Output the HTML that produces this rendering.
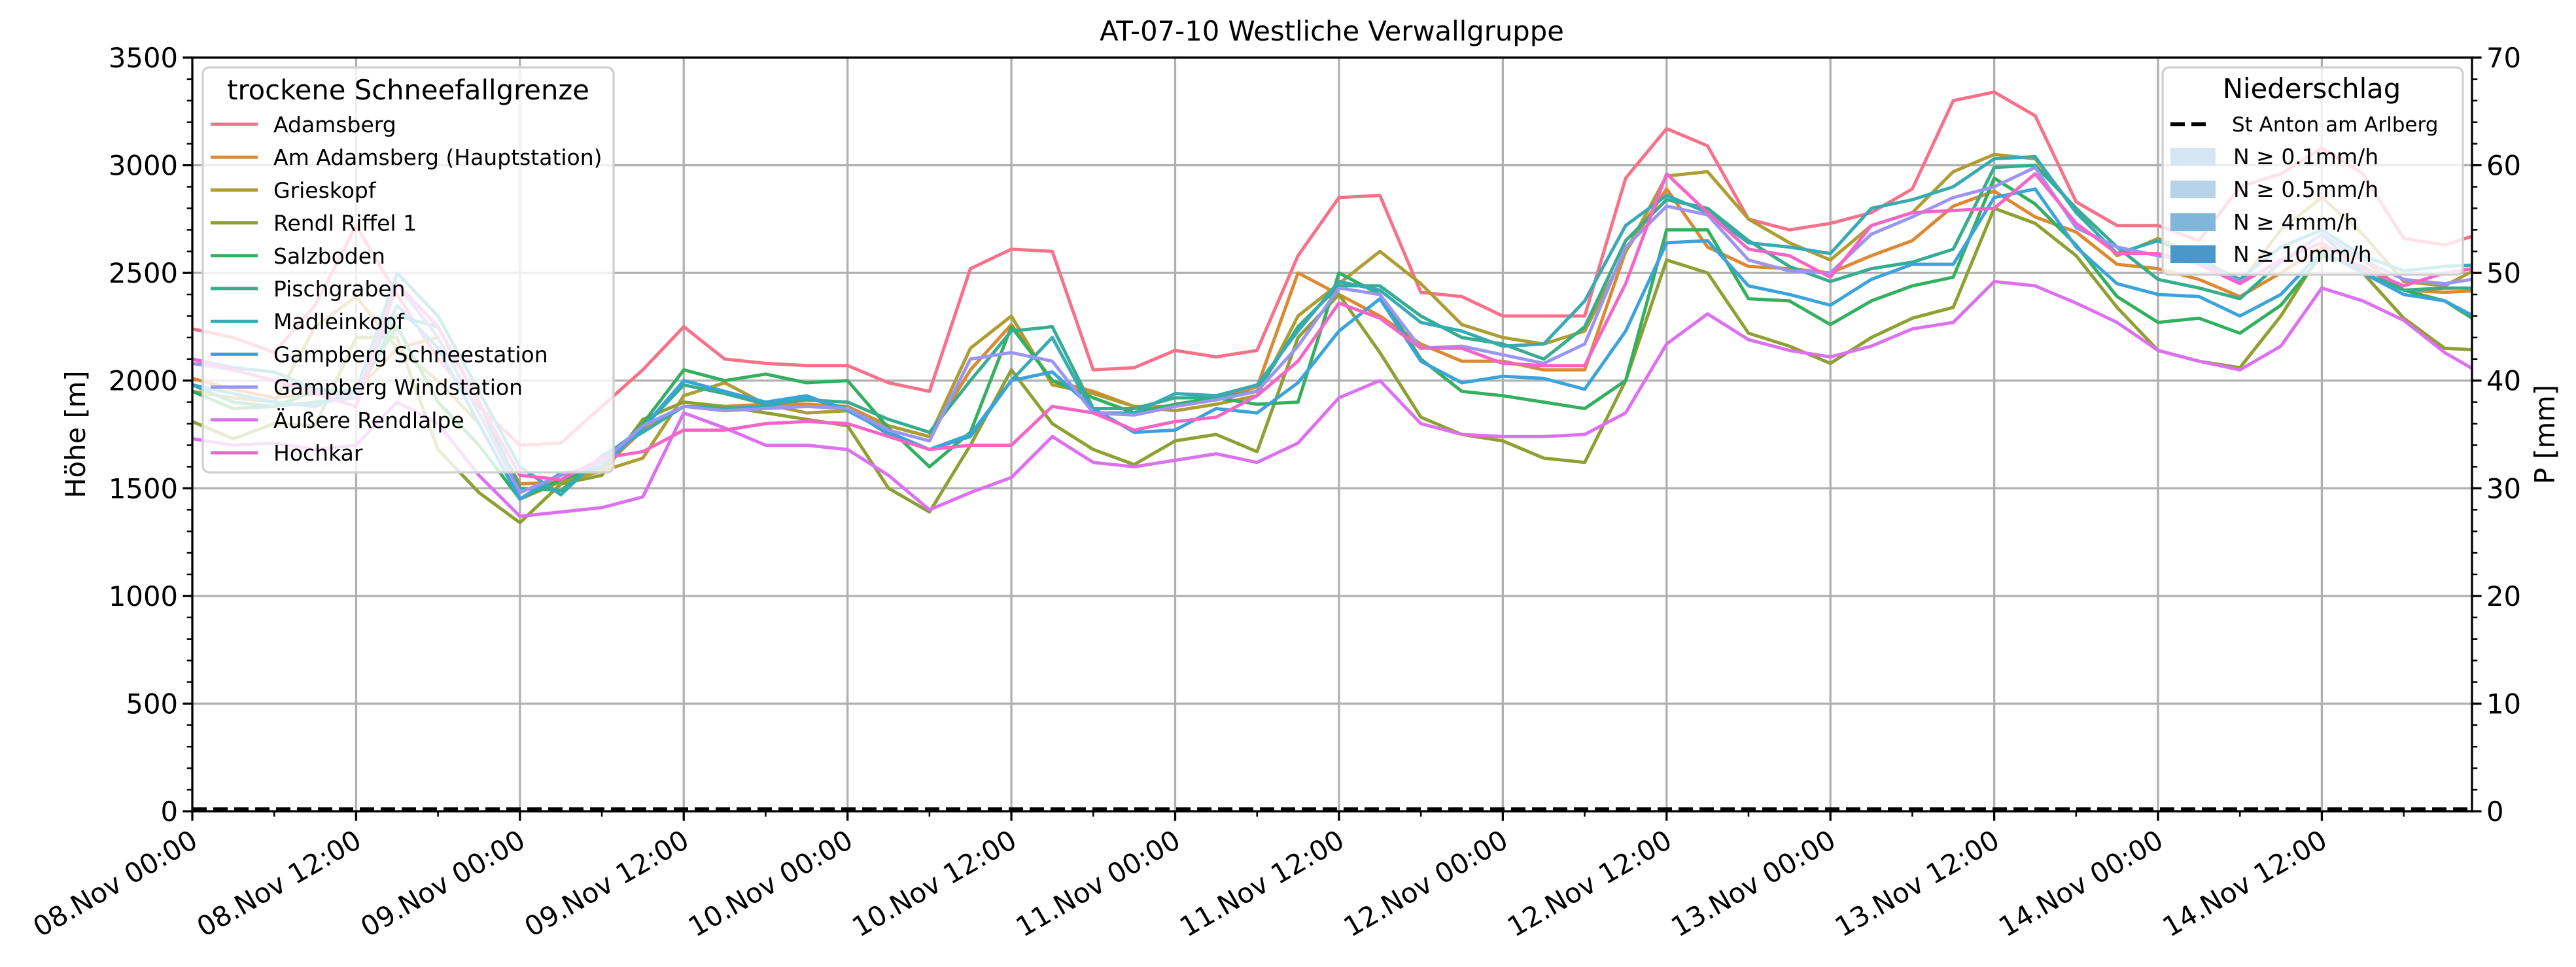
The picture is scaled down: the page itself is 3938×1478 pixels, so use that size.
<!DOCTYPE html>
<html><head><meta charset="utf-8"><style>
html,body{margin:0;padding:0;background:#fff;}
svg{display:block;font-family:"DejaVu Sans","Liberation Sans",sans-serif;}
</style></head><body>
<svg id="chart" width="3938" height="1478" viewBox="0 0 3938 1478" xmlns="http://www.w3.org/2000/svg">
<defs><clipPath id="plotclip"><rect x="294" y="88" width="3485" height="1152"/></clipPath></defs>
<rect width="3938" height="1478" fill="#fff"/>
<g id="grid"></g>
<g id="series" clip-path="url(#plotclip)"></g>
<line x1="294" y1="1237" x2="3779" y2="1237" stroke="#000" stroke-width="6" stroke-dasharray="22,10"/>
<rect x="294" y="88" width="3485" height="1152" fill="none" stroke="#000" stroke-width="3.3"/>
<g id="axes"></g>
<text x="2036" y="62" font-size="41.7" text-anchor="middle">AT-07-10 Westliche Verwallgruppe</text>
<text x="130" y="664" font-size="41.7" text-anchor="middle" transform="rotate(-90 130 664)">Höhe [m]</text>
<text x="3905" y="664" font-size="41.7" text-anchor="middle" transform="rotate(-90 3905 664)">P [mm]</text>
<g id="legend1">
<rect x="310" y="103" width="628" height="619" rx="10" fill="rgba(255,255,255,0.8)" stroke="#d0d0d0" stroke-width="3.3"/>
<text x="624" y="152" font-size="41.7" text-anchor="middle">trockene Schneefallgrenze</text>
</g>
<g id="legend2">
<rect x="3306" y="103" width="459" height="317" rx="10" fill="rgba(255,255,255,0.8)" stroke="#d0d0d0" stroke-width="3.3"/>
<text x="3534" y="150" font-size="41.7" text-anchor="middle">Niederschlag</text>
<line x1="3318" y1="190" x2="3376" y2="190" stroke="#000" stroke-width="6" stroke-dasharray="22,10"/>
<text x="3412" y="201" font-size="31">St Anton am Arlberg</text>
<rect x="3318" y="226" width="69" height="27" fill="#d6e6f4"/>
<text x="3414" y="251" font-size="33">N ≥ 0.1mm/h</text>
<rect x="3318" y="276" width="69" height="27" fill="#b7d3ea"/>
<text x="3414" y="301" font-size="33">N ≥ 0.5mm/h</text>
<rect x="3318" y="326" width="69" height="27" fill="#7fb6d9"/>
<text x="3414" y="351" font-size="33">N ≥ 4mm/h</text>
<rect x="3318" y="375" width="69" height="27" fill="#4a97c9"/>
<text x="3414" y="400" font-size="33">N ≥ 10mm/h</text>
</g>
</svg>
<script>
const names = ["Adamsberg","Am Adamsberg (Hauptstation)","Grieskopf","Rendl Riffel 1","Salzboden","Pischgraben","Madleinkopf","Gampberg Schneestation","Gampberg Windstation","Äußere Rendlalpe","Hochkar"];
const colors = ["#f77189","#dc8932","#ae9d31","#8fa032","#33b05e","#36ad8e","#37abb4","#3ba3dc","#9b95f2","#dd70f0","#f565c8"];
const stepHours = 3;
const adamsberg = [2240,2200,2130,2350,2720,2400,2100,1880,1700,1710,1880,2050,2250,2100,2080,2070,2070,1990,1950,2520,2610,2600,2050,2060,2140,2110,2140,2580,2850,2860,2410,2390,2300,2300,2300,2940,3170,3090,2750,2700,2730,2780,2890,3300,3340,3230,2830,2720,2720,2650,2900,2960,3080,2960,2660,2630,2690];
const amAdamsberg = [2010,1960,1920,1940,1950,2150,2200,1850,1520,1530,1590,1770,1880,1880,1890,1890,1880,1790,1740,2050,2260,2000,1950,1880,1880,1920,1970,2500,2400,2300,2170,2090,2090,2050,2050,2600,2890,2620,2530,2520,2500,2580,2650,2810,2880,2760,2690,2540,2520,2470,2390,2500,2620,2560,2420,2410,2420];
const grieskopf = [1950,1920,1900,2250,2390,2150,2000,1800,1450,1530,1580,1640,1930,1990,1890,1850,1860,1790,1740,2150,2300,1980,1940,1880,1860,1890,1930,2300,2450,2600,2450,2260,2200,2170,2230,2600,2950,2970,2750,2640,2560,2720,2780,2970,3050,3030,2790,2580,2660,2580,2450,2700,2850,2680,2460,2440,2540];
const rendl = [1810,1730,1800,1790,2200,2200,1680,1480,1340,1520,1560,1820,1900,1880,1850,1820,1790,1500,1390,1700,2050,1800,1680,1610,1720,1750,1670,2200,2400,2130,1830,1750,1720,1640,1620,2000,2560,2500,2220,2160,2080,2200,2290,2340,2800,2730,2580,2340,2140,2090,2060,2300,2600,2500,2290,2150,2140];
const salzboden = [1950,1870,1880,1950,1950,2250,1900,1700,1450,1540,1600,1800,2050,2000,2030,1990,2000,1780,1600,1760,2250,2000,1920,1850,1890,1920,1890,1900,2500,2400,2100,1950,1930,1900,1870,2000,2700,2700,2380,2370,2260,2370,2440,2480,2940,2820,2630,2390,2270,2290,2220,2350,2580,2530,2420,2370,2250];
const pischgraben = [1980,1900,1880,1900,1920,2300,2250,1900,1500,1490,1640,1780,1980,1940,1890,1910,1900,1820,1760,2000,2230,2250,1870,1870,1920,1920,1950,2250,2440,2440,2300,2200,2170,2100,2250,2650,2840,2800,2650,2530,2460,2520,2550,2610,2990,3000,2800,2620,2470,2430,2380,2550,2680,2500,2420,2430,2430];
const madleinkopf = [2100,2060,2040,1960,1950,2500,2300,1950,1600,1470,1650,1760,1880,1870,1880,1920,1870,1750,1680,1740,2000,2200,1850,1850,1940,1930,1980,2230,2460,2420,2270,2230,2160,2170,2370,2720,2860,2780,2640,2620,2590,2800,2840,2900,3030,3040,2780,2590,2650,2560,2470,2620,2700,2580,2510,2530,2540];
const schneestation = [1980,1940,1900,1880,1950,2350,2150,1800,1450,1570,1600,1780,2000,1950,1900,1930,1860,1760,1680,1750,2000,2040,1870,1760,1770,1870,1850,1990,2230,2380,2090,1990,2020,2010,1960,2230,2640,2650,2440,2400,2350,2470,2540,2540,2850,2890,2620,2450,2400,2390,2300,2400,2600,2500,2400,2370,2270];
const windstation = [2080,2050,2000,1950,1920,2450,2200,1850,1480,1560,1620,1790,1880,1860,1870,1880,1870,1770,1720,2100,2130,2090,1850,1840,1880,1910,1950,2160,2430,2400,2150,2160,2120,2080,2170,2620,2810,2770,2560,2510,2500,2680,2760,2850,2900,2990,2710,2620,2580,2550,2460,2550,2680,2560,2470,2450,2480];
const rendlalpe = [1730,1700,1710,1680,1700,1900,1800,1560,1370,1390,1410,1460,1850,1780,1700,1700,1680,1560,1400,1480,1550,1740,1620,1600,1630,1660,1620,1710,1920,2000,1800,1750,1740,1740,1750,1850,2170,2310,2190,2140,2110,2160,2240,2270,2460,2440,2360,2270,2140,2090,2050,2160,2430,2370,2280,2130,2020];
const hochkar = [2100,2050,2000,1940,1880,2450,2250,1900,1560,1540,1640,1670,1770,1770,1800,1810,1800,1740,1680,1700,1700,1880,1850,1770,1810,1830,1930,2090,2360,2290,2150,2150,2080,2070,2070,2450,2960,2780,2610,2580,2480,2720,2780,2790,2800,2960,2730,2590,2590,2540,2450,2560,2640,2520,2440,2500,2530];
const yTicks = [0,500,1000,1500,2000,2500,3000,3500];
const y2Ticks = [0,10,20,30,40,50,60,70];
const xTickLabels = ["08.Nov 00:00","08.Nov 12:00","09.Nov 00:00","09.Nov 12:00","10.Nov 00:00","10.Nov 12:00","11.Nov 00:00","11.Nov 12:00","12.Nov 00:00","12.Nov 12:00","13.Nov 00:00","13.Nov 12:00","14.Nov 00:00","14.Nov 12:00"];

const allSeries = [adamsberg,amAdamsberg,grieskopf,rendl,salzboden,pischgraben,madleinkopf,schneestation,windstation,rendlalpe,hochkar];
const L=294,R=3779,T=88,B=1240,HMAX=167;
const xs = h => L + h*(R-L)/HMAX;
const ys = v => B - v*(B-T)/3500;
const y2s = v => B - v*(B-T)/70;
const NS="http://www.w3.org/2000/svg";
function mk(tag, attrs, parent){const e=document.createElementNS(NS,tag);for(const k in attrs)e.setAttribute(k,attrs[k]);parent.appendChild(e);return e;}
const grid=document.getElementById('grid'), axes=document.getElementById('axes'), sg=document.getElementById('series');

yTicks.forEach(v=>{
  if(v>0&&v<3500){const g=mk('line',{x1:L,x2:R,y1:ys(v),y2:ys(v),stroke:'#b0b0b0','stroke-width':3.3},grid);
  
  }
  const t=mk('line',{x1:L-14.6,x2:L,y1:ys(v),y2:ys(v),stroke:'#000','stroke-width':3.3},axes);
  
  
  const tx=mk('text',{x:L-22,y:ys(v)+15,'font-size':41.7,'text-anchor':'end'},axes);
  tx.textContent=v;
  
  
});
for(let v=0;v<=3500;v+=100){ if(v%500===0)continue;
  const t=mk('line',{x1:L-8.3,x2:L,y1:ys(v),y2:ys(v),stroke:'#000','stroke-width':2.5},axes);
  
  }
y2Ticks.forEach(v=>{
  const t=mk('line',{x1:R,x2:R+14.6,y1:y2s(v),y2:y2s(v),stroke:'#000','stroke-width':3.3},axes);
  
  
  const tx=mk('text',{x:R+22,y:y2s(v)+15,'font-size':41.7},axes);
  tx.textContent=v;
  
  
});
for(let v=0;v<=70;v+=2){ if(v%10===0)continue;
  const t=mk('line',{x1:R,x2:R+8.3,y1:y2s(v),y2:y2s(v),stroke:'#000','stroke-width':2.5},axes);
  
  }
xTickLabels.forEach((lab,i)=>{
  const x=xs(i*12);
  if(i>0){const g=mk('line',{x1:x,x2:x,y1:T,y2:B,stroke:'#b0b0b0','stroke-width':3.3},grid);
  
  }
  const t=mk('line',{x1:x,x2:x,y1:B,y2:B+14.6,stroke:'#000','stroke-width':3.3},axes);
  
  
  const ax=x-2;
  const tx=mk('text',{x:ax,y:B+56,'font-size':41.7,'text-anchor':'end',transform:`rotate(-30 ${ax} ${B+30})`},axes);
  tx.textContent=lab;
  
  
});
for(let h=6;h<=HMAX;h+=12){const x=xs(h);
  const t=mk('line',{x1:x,x2:x,y1:B,y2:B+8.3,stroke:'#000','stroke-width':2.5},axes);
  
  }

allSeries.forEach((arr,si)=>{
  const d=arr.map((v,i)=>(i?'L':'M')+xs(i*stepHours).toFixed(1)+','+ys(v).toFixed(1)).join('');
  const p=mk('path',{d:d,fill:'none',stroke:colors[si],'stroke-width':5,'stroke-linejoin':'round'},sg);
  
  
});

const lg=document.getElementById('legend1');
names.forEach((n,i)=>{
  const y=190+i*50.2;
  const l=mk('line',{x1:322,x2:394,y1:y,y2:y,stroke:colors[i],'stroke-width':5},lg);
  
  
  const t=mk('text',{x:418,y:y+12,'font-size':33},lg);
  t.textContent=n;
  
  
});
</script>
</body></html>
